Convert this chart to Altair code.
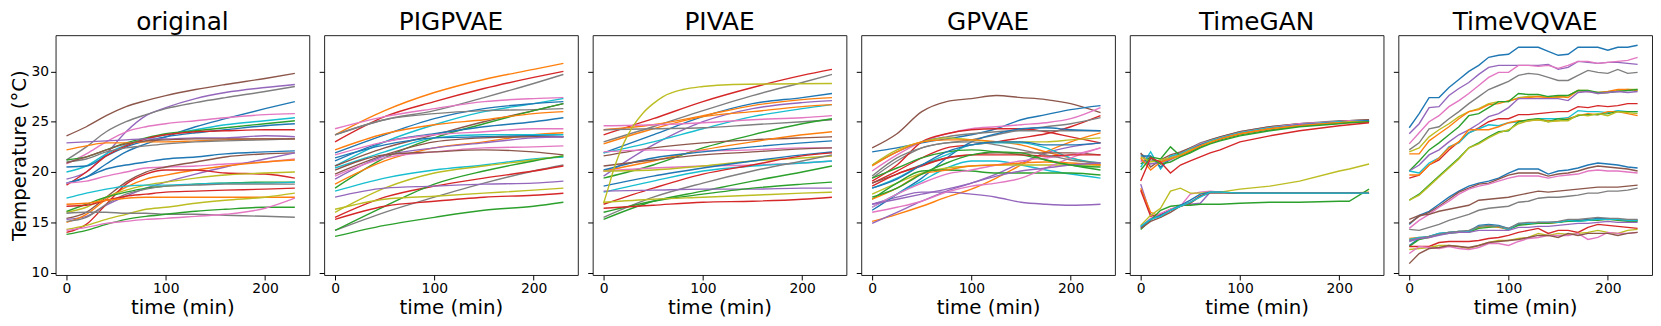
import altair as alt
import pandas as pd

TAB10 = {"blue": "#1f77b4", "orange": "#ff7f0e", "green": "#2ca02c", "red": "#d62728",
         "purple": "#9467bd", "brown": "#8c564b", "pink": "#e377c2", "gray": "#7f7f7f",
         "olive": "#bcbd22", "cyan": "#17becf"}

PANELS = ["original", "PIGPVAE", "PIVAE", "GPVAE", "TimeGAN", "TimeVQVAE"]
Y_TICKS = [10, 15, 20, 25, 30]
X_TICKS = [0, 100, 200]

# ---------------- original ----------------
ORIG_T = [0, 20, 40, 60, 80, 100, 130, 160, 200, 230]
ORIG = [
    ("brown", [23.6, 24.5, 25.6, 26.5, 27.1, 27.6, 28.2, 28.7, 29.3, 29.8]),
    ("purple", [19.3, 20.0, 21.8, 24.0, 25.6, 26.4, 27.3, 27.9, 28.4, 28.7]),
    ("gray", [21.2, 22.5, 24.0, 25.0, 25.7, 26.3, 26.9, 27.4, 28.0, 28.5]),
    ("blue", [18.9, 19.5, 20.8, 22.0, 22.8, 23.5, 24.5, 25.3, 26.3, 27.0]),
    ("pink", [20.8, 21.8, 23.0, 24.0, 24.5, 24.8, 25.1, 25.4, 25.7, 25.8]),
    ("cyan", [20.0, 20.6, 21.8, 22.7, 23.3, 23.7, 24.2, 24.7, 25.1, 25.4]),
    ("green", [21.2, 21.5, 22.2, 22.9, 23.4, 23.8, 24.1, 24.4, 24.8, 25.1]),
    ("blue", [20.5, 20.6, 21.6, 22.5, 23.1, 23.5, 23.9, 24.2, 24.6, 24.8]),
    ("red", [18.7, 20.0, 21.6, 22.6, 23.3, 23.7, 24.0, 24.1, 24.2, 24.2]),
    ("purple", [22.9, 23.0, 23.1, 23.2, 23.3, 23.3, 23.4, 23.4, 23.6, 23.5]),
    ("orange", [22.2, 22.6, 22.9, 22.9, 23.0, 23.0, 23.1, 23.2, 23.3, 23.3]),
    ("gray", [21.0, 21.3, 22.0, 22.4, 22.6, 22.8, 23.0, 23.1, 23.2, 23.3]),
    ("brown", [20.9, 21.5, 22.2, 22.8, 23.1, 23.2, 23.3, 23.3, 23.3, 23.3]),
    ("blue", [18.9, 19.5, 20.3, 20.7, 21.0, 21.3, 21.5, 21.8, 22.0, 22.1]),
    ("pink", [18.9, 19.1, 19.6, 20.0, 20.4, 20.5, 20.6, 20.8, 21.0, 21.3]),
    ("brown", [15.4, 16.0, 17.5, 19.0, 20.0, 20.5, 21.0, 21.5, 21.8, 21.9]),
    ("purple", [15.3, 15.6, 16.7, 17.6, 18.4, 19.0, 19.8, 20.5, 21.3, 21.9]),
    ("orange", [15.0, 15.8, 17.3, 18.5, 19.3, 19.7, 20.2, 20.6, 21.0, 21.2]),
    ("red", [14.0, 14.8, 16.8, 18.8, 19.8, 20.2, 20.2, 19.9, 19.8, 19.4]),
    ("olive", [16.0, 16.5, 17.5, 18.2, 18.7, 19.0, 19.4, 19.7, 19.9, 20.0]),
    ("green", [16.1, 16.8, 17.5, 18.0, 18.4, 18.6, 18.8, 18.9, 19.0, 19.0]),
    ("cyan", [17.4, 17.9, 18.3, 18.6, 18.7, 18.7, 18.8, 18.9, 18.9, 19.0]),
    ("gray", [15.1, 15.5, 16.8, 17.8, 18.3, 18.6, 18.7, 18.8, 18.8, 18.8]),
    ("red", [16.6, 16.7, 17.2, 17.6, 17.8, 18.0, 18.1, 18.2, 18.3, 18.4]),
    ("orange", [16.8, 16.9, 17.2, 17.4, 17.5, 17.5, 17.5, 17.5, 17.5, 17.5]),
    ("olive", [14.3, 14.7, 15.3, 15.8, 16.3, 16.5, 16.9, 17.2, 17.5, 17.9]),
    ("gray", [15.9, 16.0, 16.0, 15.9, 15.9, 15.8, 15.8, 15.7, 15.6, 15.5]),
    ("green", [13.8, 14.2, 14.8, 15.3, 15.6, 15.8, 16.1, 16.3, 16.5, 16.5]),
    ("pink", [14.2, 14.5, 14.9, 15.1, 15.3, 15.4, 15.6, 15.8, 16.4, 17.4]),
]

# ---------------- PIGPVAE ----------------
PIGP_T = [0, 50, 100, 150, 200, 230]
PIGP = [
    ("orange", [23.7, 26.1, 27.9, 29.2, 30.2, 30.8]),
    ("red", [23.0, 25.5, 27.0, 28.3, 29.4, 30.0]),
    ("gray", [23.7, 25.2, 26.1, 27.4, 28.8, 29.7]),
    ("pink", [24.3, 25.5, 26.3, 27.0, 27.3, 27.4]),
    ("cyan", [20.6, 23.0, 24.7, 26.0, 26.8, 27.3]),
    ("blue", [21.9, 23.7, 25.3, 26.3, 26.8, 27.0]),
    ("gray", [23.7, 25.2, 25.8, 26.1, 26.2, 26.3]),
    ("brown", [20.6, 22.4, 23.7, 25.0, 26.1, 26.8]),
    ("green", [18.4, 21.4, 23.4, 24.8, 26.1, 26.8]),
    ("orange", [22.2, 23.8, 24.7, 25.2, 25.8, 26.0]),
    ("blue", [21.1, 23.0, 23.8, 24.5, 25.0, 25.4]),
    ("pink", [21.7, 23.0, 23.7, 24.0, 24.3, 24.3]),
    ("orange", [18.8, 21.1, 22.4, 23.0, 23.7, 23.9]),
    ("cyan", [20.4, 22.0, 23.4, 23.7, 23.7, 23.7]),
    ("blue", [21.4, 22.7, 23.4, 23.5, 23.6, 23.5]),
    ("brown", [19.8, 21.7, 23.0, 23.4, 23.5, 23.5]),
    ("purple", [19.3, 21.6, 22.4, 22.9, 23.4, 23.5]),
    ("pink", [19.6, 21.4, 22.0, 22.4, 22.5, 22.6]),
    ("brown", [20.2, 21.7, 22.0, 22.2, 22.0, 21.7]),
    ("cyan", [18.1, 19.4, 20.2, 20.7, 21.3, 21.5]),
    ("olive", [16.0, 18.4, 19.9, 20.6, 21.2, 21.6]),
    ("gray", [14.2, 16.0, 17.5, 18.9, 20.1, 20.7]),
    ("red", [15.5, 17.5, 18.6, 19.4, 20.1, 20.6]),
    ("green", [14.2, 16.6, 18.8, 20.1, 21.1, 21.6]),
    ("purple", [17.5, 18.4, 18.6, 18.8, 18.9, 19.1]),
    ("olive", [16.3, 17.3, 17.6, 17.9, 18.2, 18.4]),
    ("red", [15.3, 16.6, 17.1, 17.5, 17.7, 17.9]),
    ("green", [13.6, 14.7, 15.5, 16.2, 16.6, 17.0]),
]

# ---------------- PIVAE ----------------
PIVAE_T = [0, 50, 100, 150, 200, 230]
PIVAE_OLIVE_T = [0, 5, 10, 15, 20, 30, 40, 50, 60, 80, 100, 130, 230]
PIVAE = [
    ("red", [23.7, 25.3, 27.0, 28.4, 29.6, 30.2]),
    ("gray", [23.0, 24.5, 26.1, 27.6, 28.9, 29.7]),
    ("blue", [21.9, 23.7, 25.5, 26.8, 27.4, 27.8]),
    ("orange", [24.2, 24.7, 25.6, 26.6, 27.2, 27.4]),
    ("purple", [19.6, 22.7, 25.0, 26.3, 26.9, 27.1]),
    ("cyan", [21.9, 23.0, 24.3, 25.5, 26.3, 26.7]),
    ("orange", [22.8, 24.3, 25.5, 26.0, 26.5, 26.7]),
    ("pink", [24.6, 24.7, 24.9, 25.2, 25.4, 25.6]),
    ("gray", [24.2, 24.3, 24.4, 24.7, 25.0, 25.2]),
    ("green", [19.4, 20.7, 22.4, 23.7, 24.8, 25.3]),
    ("brown", [21.6, 22.4, 22.9, 23.2, 23.4, 23.5]),
    ("orange", [20.1, 21.1, 22.2, 23.0, 23.7, 24.0]),
    ("pink", [22.0, 22.2, 22.1, 22.2, 22.4, 22.4]),
    ("blue", [20.2, 21.4, 22.0, 22.5, 22.9, 23.1]),
    ("brown", [20.6, 21.2, 21.7, 22.0, 22.3, 22.4]),
    ("pink", [20.1, 20.4, 20.6, 20.7, 20.9, 21.1]),
    ("olive", [20.1, 20.2, 20.6, 21.1, 21.4, 21.6]),
    ("blue", [18.6, 19.6, 20.4, 21.1, 21.7, 22.0]),
    ("cyan", [18.0, 19.1, 20.1, 20.6, 20.9, 21.1]),
    ("red", [16.8, 18.4, 19.8, 20.7, 21.6, 21.9]),
    ("gray", [15.5, 17.5, 18.9, 20.1, 21.1, 21.7]),
    ("green", [15.3, 17.1, 18.1, 19.1, 20.0, 20.6]),
    ("purple", [18.1, 18.2, 18.3, 18.3, 18.4, 18.4]),
    ("green", [16.0, 17.1, 17.8, 18.4, 18.8, 19.0]),
    ("olive", [17.0, 17.3, 17.5, 17.7, 17.9, 18.0]),
    ("red", [16.4, 16.7, 17.0, 17.1, 17.3, 17.5]),
    ("olive", [16.9, 18.5, 20.2, 21.6, 22.8, 24.6, 25.9, 26.8, 27.5, 28.2, 28.5, 28.7, 28.8], PIVAE_OLIVE_T),
]

# ---------------- GPVAE ----------------
GPVAE_T = [0, 25, 50, 75, 100, 125, 150, 175, 200, 230]
GPVAE = [
    ("brown", [22.4, 23.8, 26.0, 27.0, 27.3, 27.6, 27.4, 27.2, 26.8, 25.9]),
    ("blue", [22.0, 22.4, 22.9, 23.3, 23.7, 24.3, 25.2, 25.7, 26.2, 26.6]),
    ("pink", [20.1, 21.7, 23.0, 23.8, 24.3, 24.5, 24.7, 24.9, 25.3, 26.4]),
    ("red", [18.9, 20.1, 21.4, 22.4, 22.7, 23.0, 23.4, 23.8, 24.5, 25.6]),
    ("gray", [19.4, 21.1, 22.4, 22.9, 23.2, 23.7, 24.2, 24.5, 24.8, 25.4]),
    ("orange", [15.1, 15.8, 16.6, 17.5, 18.3, 19.4, 20.7, 22.0, 23.0, 23.9]),
    ("purple", [14.9, 16.0, 17.1, 18.1, 18.9, 19.8, 20.9, 21.9, 22.5, 22.9]),
    ("purple", [16.8, 17.5, 18.0, 18.0, 17.8, 17.5, 17.0, 16.8, 16.7, 16.8]),
    ("red", [19.1, 20.7, 23.0, 23.8, 24.2, 24.3, 24.3, 24.0, 23.5, 22.9]),
    ("gray", [20.7, 22.0, 23.0, 23.5, 23.8, 24.0, 24.1, 24.1, 24.1, 24.1]),
    ("blue", [16.2, 17.8, 19.4, 21.4, 23.0, 23.8, 24.3, 24.4, 24.2, 24.1]),
    ("olive", [20.7, 22.2, 23.0, 23.4, 23.2, 23.0, 23.0, 23.0, 23.2, 23.4]),
    ("orange", [20.6, 22.0, 23.0, 23.2, 23.2, 23.0, 22.7, 22.0, 21.4, 20.7]),
    ("cyan", [18.4, 19.4, 20.7, 21.7, 22.7, 22.9, 22.9, 22.4, 21.4, 20.9]),
    ("green", [19.4, 20.4, 21.4, 22.0, 22.2, 22.0, 21.7, 21.2, 20.7, 20.2]),
    ("brown", [18.9, 19.8, 20.7, 21.4, 21.7, 21.9, 21.9, 21.9, 21.9, 21.7]),
    ("cyan", [16.5, 17.8, 19.1, 20.4, 21.1, 21.1, 20.7, 20.2, 19.8, 19.4]),
    ("olive", [17.8, 18.9, 19.9, 20.4, 20.6, 20.7, 20.7, 20.7, 20.7, 20.7]),
    ("green", [17.3, 18.9, 20.1, 20.2, 20.1, 19.9, 19.9, 19.9, 19.9, 19.7]),
    ("pink", [16.5, 17.8, 18.9, 19.8, 20.2, 20.7, 21.1, 21.4, 21.7, 22.4]),
    ("pink", [16.0, 16.5, 17.1, 18.0, 18.6, 18.9, 19.4, 20.4, 21.4, 22.4]),
    ("red", [18.6, 19.8, 20.6, 21.4, 21.7, 21.7, 21.7, 21.6, 21.7, 21.7]),
    ("gray", [19.6, 21.4, 22.4, 22.9, 23.0, 22.7, 22.2, 21.7, 21.2, 20.9]),
    ("blue", [18.4, 19.3, 20.7, 22.0, 22.7, 23.0, 23.0, 22.7, 22.7, 22.9]),
    ("orange", [17.3, 18.4, 19.8, 20.2, 20.6, 20.7, 20.9, 21.0, 20.9, 20.7]),
    ("purple", [16.8, 17.3, 17.8, 18.3, 18.9, 19.6, 20.1, 20.4, 20.7, 20.9]),
    ("green", [17.5, 18.4, 19.8, 20.9, 21.7, 22.0, 21.9, 21.2, 20.7, 20.5]),
]

# ---------------- TimeGAN ----------------
GAN_T = [0, 10, 20, 30, 40, 50, 60, 70, 80, 100, 130, 160, 200, 210, 230]
GAN = [
    ("gray", [21.8, 21.2, 21.0, 21.5, 21.9, 22.4, 22.9, 23.2, 23.5, 24.0, 24.5, 24.8, 25.1, 25.1, 25.2]),
    ("brown", [21.9, 20.5, 21.2, 21.7, 22.0, 22.4, 22.8, 23.2, 23.5, 24.0, 24.5, 24.8, 25.0, 25.1, 25.2]),
    ("pink", [21.0, 21.6, 20.8, 21.4, 21.8, 22.3, 22.8, 23.1, 23.4, 23.9, 24.4, 24.8, 25.0, 25.1, 25.1]),
    ("cyan", [20.5, 22.0, 20.3, 21.6, 21.8, 22.3, 22.7, 23.1, 23.4, 23.9, 24.4, 24.7, 25.0, 25.0, 25.1]),
    ("blue", [21.6, 21.6, 20.5, 21.3, 21.7, 22.2, 22.7, 23.0, 23.3, 23.8, 24.3, 24.7, 24.9, 25.0, 25.1]),
    ("green", [20.8, 21.5, 21.3, 22.5, 21.6, 22.0, 22.5, 22.9, 23.2, 23.7, 24.2, 24.6, 24.9, 25.0, 25.0]),
    ("purple", [21.2, 20.8, 21.0, 21.2, 21.7, 22.2, 22.6, 23.0, 23.3, 23.8, 24.3, 24.7, 24.9, 25.0, 25.0]),
    ("olive", [21.5, 21.0, 21.2, 21.4, 21.7, 22.2, 22.6, 23.0, 23.3, 23.8, 24.3, 24.6, 24.9, 25.0, 25.0]),
    ("orange", [21.4, 20.2, 21.0, 21.3, 21.6, 22.1, 22.6, 22.9, 23.3, 23.8, 24.3, 24.6, 24.9, 24.9, 25.0]),
    ("green", [20.2, 21.4, 20.8, 21.0, 21.5, 21.9, 22.4, 22.8, 23.1, 23.6, 24.1, 24.5, 24.8, 24.9, 25.0]),
    ("red", [19.1, 21.4, 21.0, 19.9, 20.7, 21.1, 21.5, 21.9, 22.2, 23.0, 23.6, 24.1, 24.6, 24.7, 24.9]),
    ("purple", [18.8, 15.8, 15.5, 16.2, 16.7, 16.8, 16.9, 18.0, 18.0, 17.9, 17.9, 17.9, 17.9, 17.9, 17.9]),
    ("orange", [18.4, 16.0, 15.6, 16.2, 16.6, 16.9, 17.6, 18.0, 18.0, 17.9, 17.9, 17.9, 17.9, 17.9, 18.0]),
    ("red", [18.2, 15.6, 15.8, 16.3, 16.6, 17.0, 17.6, 18.0, 18.0, 17.9, 17.9, 17.9, 17.9, 17.9, 17.9]),
    ("pink", [14.6, 15.4, 15.9, 16.3, 16.6, 17.8, 18.0, 18.1, 18.0, 17.9, 17.9, 17.9, 17.9, 17.9, 17.9]),
    ("green", [14.3, 15.2, 16.2, 16.6, 16.7, 16.7, 16.8, 16.8, 16.8, 16.9, 17.0, 17.0, 17.1, 17.1, 18.3]),
    ("olive", [14.7, 15.7, 16.4, 18.1, 18.4, 17.9, 17.9, 18.0, 18.0, 18.3, 18.6, 19.1, 20.1, 20.3, 20.8]),
    ("blue", [14.5, 15.3, 15.7, 16.2, 16.7, 17.2, 17.8, 18.0, 18.0, 17.9, 17.9, 17.9, 17.9, 17.9, 17.9]),
    ("brown", [14.4, 15.1, 15.5, 16.0, 16.6, 16.9, 17.6, 17.9, 17.9, 17.9, 17.9, 17.9, 17.9, 17.9, 17.9]),
    ("cyan", [14.6, 15.3, 15.6, 16.2, 16.6, 17.0, 17.5, 18.0, 18.0, 17.9, 17.9, 17.9, 17.9, 17.9, 17.9]),
]

# ---------------- TimeVQVAE ----------------
VQ_T = [0, 10, 20, 30, 40, 50, 60, 70, 80, 90, 100, 110, 120, 130, 140, 150, 160, 170, 180, 190, 200, 210, 220, 230]
VQ = [
    ("blue", [24.4, 25.8, 27.4, 27.4, 28.4, 29.2, 30.0, 30.6, 31.4, 31.6, 31.7, 32.4, 32.4, 32.4, 32.0, 31.6, 31.7, 32.4, 32.4, 32.4, 32.1, 32.4, 32.4, 32.6]),
    ("purple", [23.8, 24.8, 26.4, 26.5, 27.6, 28.3, 28.9, 29.7, 30.4, 30.6, 30.6, 30.6, 30.6, 30.6, 30.7, 30.2, 30.4, 31.0, 30.9, 30.8, 30.9, 30.9, 30.8, 30.7]),
    ("pink", [22.8, 23.9, 25.0, 25.6, 26.5, 27.1, 27.8, 28.6, 29.4, 29.9, 29.9, 30.6, 30.6, 30.5, 30.6, 30.3, 30.6, 31.0, 31.0, 30.8, 30.9, 31.0, 31.1, 31.4]),
    ("gray", [22.2, 22.9, 24.3, 24.5, 25.3, 26.0, 26.8, 27.5, 28.2, 28.6, 29.0, 29.6, 29.8, 29.7, 29.4, 29.1, 29.1, 29.6, 30.1, 29.9, 29.8, 30.2, 29.8, 29.9]),
    ("olive", [22.0, 22.4, 23.5, 24.2, 24.8, 25.5, 26.0, 26.3, 26.8, 27.0, 27.0, 27.4, 27.5, 27.5, 27.4, 27.4, 27.6, 28.1, 28.1, 27.8, 27.9, 28.1, 28.2, 28.2]),
    ("orange", [21.8, 21.8, 23.1, 23.8, 24.5, 25.3, 26.0, 26.2, 26.7, 26.8, 27.1, 27.3, 27.4, 27.5, 27.4, 27.5, 27.4, 28.1, 28.0, 27.9, 28.0, 28.2, 28.2, 28.1]),
    ("green", [20.1, 21.1, 22.2, 22.9, 23.7, 24.5, 25.6, 25.8, 26.4, 27.0, 27.0, 27.8, 27.7, 27.7, 27.5, 27.6, 27.6, 28.1, 28.1, 27.9, 27.9, 28.0, 28.1, 28.2]),
    ("purple", [20.1, 20.7, 21.7, 22.2, 23.0, 23.7, 24.2, 24.8, 25.5, 25.8, 26.4, 27.3, 27.3, 27.3, 27.3, 27.3, 27.1, 27.9, 28.0, 27.8, 27.9, 28.0, 27.9, 28.0]),
    ("red", [19.4, 19.7, 20.7, 21.2, 22.2, 23.0, 23.9, 24.4, 25.0, 25.3, 25.3, 25.7, 25.7, 25.8, 25.9, 26.0, 26.0, 26.5, 26.4, 26.6, 26.5, 26.6, 26.8, 26.8]),
    ("cyan", [20.1, 19.9, 20.9, 21.4, 22.5, 22.9, 23.9, 24.3, 24.7, 24.6, 24.9, 25.0, 25.1, 25.3, 25.3, 25.3, 25.4, 26.1, 26.0, 26.0, 25.9, 26.1, 26.0, 26.0]),
    ("orange", [19.7, 19.7, 20.7, 21.4, 22.4, 23.0, 24.2, 24.2, 24.2, 24.5, 24.9, 25.1, 25.1, 25.2, 25.1, 25.1, 25.3, 25.6, 25.8, 25.7, 26.0, 26.0, 25.8, 25.6]),
    ("green", [17.2, 17.8, 18.7, 19.6, 20.5, 21.4, 22.4, 22.9, 23.5, 24.0, 24.1, 25.0, 25.2, 25.3, 25.0, 25.3, 25.2, 25.6, 25.7, 25.7, 25.8, 26.0, 26.0, 26.0]),
    ("olive", [17.2, 17.7, 18.6, 19.5, 20.4, 21.3, 22.4, 22.8, 23.4, 23.9, 24.2, 24.8, 25.1, 25.2, 25.0, 25.1, 25.1, 25.7, 25.6, 25.8, 25.6, 26.0, 25.9, 25.8]),
    ("blue", [14.8, 15.7, 16.1, 16.8, 17.5, 18.1, 18.6, 18.9, 19.1, 19.4, 19.9, 20.3, 20.3, 20.3, 19.8, 20.1, 20.2, 20.4, 20.7, 20.9, 20.8, 20.7, 20.5, 20.4]),
    ("brown", [14.9, 15.6, 16.0, 16.6, 17.3, 18.0, 18.4, 18.8, 18.9, 19.3, 19.7, 19.9, 19.9, 19.9, 19.6, 19.8, 19.9, 20.1, 20.4, 20.6, 20.5, 20.4, 20.3, 20.1]),
    ("pink", [14.4, 15.2, 15.8, 16.5, 17.1, 17.8, 18.3, 18.6, 18.8, 19.1, 19.4, 19.6, 19.6, 19.6, 19.4, 19.6, 19.7, 19.8, 20.1, 20.2, 20.1, 20.1, 20.0, 19.9]),
    ("brown", [15.3, 15.7, 15.8, 16.1, 16.3, 16.5, 16.7, 17.2, 17.3, 17.4, 17.5, 17.7, 17.9, 18.1, 18.0, 18.1, 18.2, 18.3, 18.4, 18.5, 18.5, 18.5, 18.6, 18.7]),
    ("gray", [14.3, 14.2, 14.5, 14.8, 15.2, 15.5, 15.8, 16.2, 16.4, 16.5, 16.6, 17.0, 17.1, 17.4, 17.5, 17.5, 17.6, 17.7, 17.9, 17.9, 18.1, 18.1, 18.2, 18.4]),
    ("orange", [13.4, 13.5, 13.5, 13.8, 14.0, 14.0, 14.1, 14.5, 14.6, 14.5, 14.3, 14.8, 14.9, 15.0, 14.9, 15.0, 15.2, 15.2, 15.2, 15.3, 15.3, 15.3, 15.2, 15.2]),
    ("blue", [12.7, 13.4, 13.6, 13.9, 14.0, 14.1, 14.1, 14.7, 14.8, 14.7, 14.4, 14.8, 14.9, 15.0, 15.0, 15.0, 15.2, 15.2, 15.3, 15.4, 15.4, 15.3, 15.2, 15.2]),
    ("green", [12.6, 13.3, 13.5, 13.8, 13.9, 14.0, 14.0, 14.4, 14.5, 14.6, 14.3, 14.7, 14.8, 14.9, 14.9, 15.0, 15.1, 15.1, 15.2, 15.2, 15.3, 15.2, 15.1, 15.1]),
    ("cyan", [13.3, 13.5, 13.6, 13.9, 14.0, 14.1, 14.1, 14.6, 14.7, 14.6, 14.3, 14.9, 14.9, 15.0, 15.0, 15.0, 15.2, 15.1, 15.2, 15.3, 15.3, 15.3, 15.2, 15.2]),
    ("gray", [13.2, 13.4, 13.6, 13.8, 14.0, 14.1, 14.2, 14.6, 14.7, 14.6, 14.4, 14.9, 15.0, 15.0, 15.0, 15.1, 15.3, 15.3, 15.4, 15.5, 15.4, 15.4, 15.3, 15.3]),
    ("purple", [13.1, 13.4, 13.5, 13.7, 13.9, 14.0, 14.0, 14.2, 14.2, 14.2, 14.2, 14.5, 14.5, 14.6, 14.6, 14.7, 14.8, 14.9, 14.9, 15.0, 15.1, 15.0, 15.0, 15.0]),
    ("red", [12.6, 12.6, 12.6, 13.0, 13.1, 13.1, 13.1, 13.2, 13.4, 13.5, 13.7, 14.0, 14.2, 14.4, 13.9, 14.2, 14.2, 14.0, 14.5, 14.8, 14.7, 14.6, 14.5, 14.4]),
    ("olive", [12.3, 12.4, 12.5, 12.7, 12.7, 12.6, 12.4, 12.7, 13.0, 13.2, 13.2, 13.4, 13.5, 13.9, 13.7, 13.9, 13.8, 13.9, 14.0, 14.2, 14.0, 13.9, 14.2, 14.3]),
    ("pink", [11.9, 12.6, 12.5, 12.4, 12.6, 12.4, 12.3, 12.5, 12.9, 12.9, 12.7, 13.1, 13.4, 13.5, 13.7, 13.7, 13.7, 13.9, 13.3, 13.5, 14.0, 13.9, 13.9, 14.0]),
    ("brown", [10.9, 11.9, 12.4, 12.5, 12.7, 12.6, 12.5, 12.7, 13.0, 13.1, 13.2, 13.3, 13.5, 13.7, 13.7, 13.5, 13.9, 13.7, 13.9, 13.9, 13.9, 13.7, 13.9, 14.0]),
]

PANEL_DATA = [
    ("original", ORIG_T, ORIG, "monotone"),
    ("PIGPVAE", PIGP_T, PIGP, "monotone"),
    ("PIVAE", PIVAE_T, PIVAE, "monotone"),
    ("GPVAE", GPVAE_T, GPVAE, "monotone"),
    ("TimeGAN", GAN_T, GAN, "linear"),
    ("TimeVQVAE", VQ_T, VQ, "linear"),
]

FONT = "DejaVu Sans"
W, H = 256, 242
X_DOMAIN = [-11, 244.5]
Y_DOMAIN = [9.77, 33.6]


def make_panel(idx, name, times, lines, interp):
    rows = []
    for i, entry in enumerate(lines):
        color, vals = entry[0], entry[1]
        ts = entry[2] if len(entry) > 2 else times
        for t, v in zip(ts, vals):
            rows.append({"line": i, "color": TAB10[color], "time": t, "temp": v})
    df = pd.DataFrame(rows)

    x_axis = alt.Axis(values=X_TICKS, title="time (min)", format="d", grid=False,
                      domain=False, tickSize=5, tickColor="black", labelFontSize=14,
                      labelFont=FONT, labelColor="black", labelPadding=2,
                      titleFont=FONT, titleFontSize=20, titleFontWeight="normal",
                      titleColor="black", titlePadding=2)
    if idx == 0:
        y_axis = alt.Axis(values=Y_TICKS, title="Temperature (°C)", grid=False, domain=False,
                          tickSize=5, tickColor="black", labelFontSize=14, labelFont=FONT,
                          labelColor="black", labelPadding=2, titleFont=FONT,
                          titleFontSize=20, titleFontWeight="normal", titleColor="black",
                          titlePadding=2)
    else:
        y_axis = alt.Axis(values=Y_TICKS, title=None, labels=False, grid=False, domain=False,
                          tickSize=5, tickColor="black")

    return alt.Chart(df).mark_line(strokeWidth=1.4, interpolate=interp, clip=True).encode(
        x=alt.X("time:Q", scale=alt.Scale(domain=X_DOMAIN, nice=False, zero=False), axis=x_axis),
        y=alt.Y("temp:Q", scale=alt.Scale(domain=Y_DOMAIN, nice=False, zero=False), axis=y_axis),
        color=alt.Color("color:N", scale=None),
        detail="line:N",
        order="time:Q",
    ).properties(
        width=W, height=H,
        title=alt.TitleParams(name, fontSize=25, font=FONT, fontWeight="normal", color="black",
                              anchor="middle", frame="group", offset=0),
    )


charts = [make_panel(i, *p) for i, p in enumerate(PANEL_DATA)]

chart = alt.hconcat(*charts, spacing=8).properties(
    padding={"left": 0, "top": 0, "right": 0, "bottom": 0}
).configure_view(stroke="#222222", strokeWidth=1)

chart.save("out.html", embed_options={"renderer": "svg", "actions": False})
